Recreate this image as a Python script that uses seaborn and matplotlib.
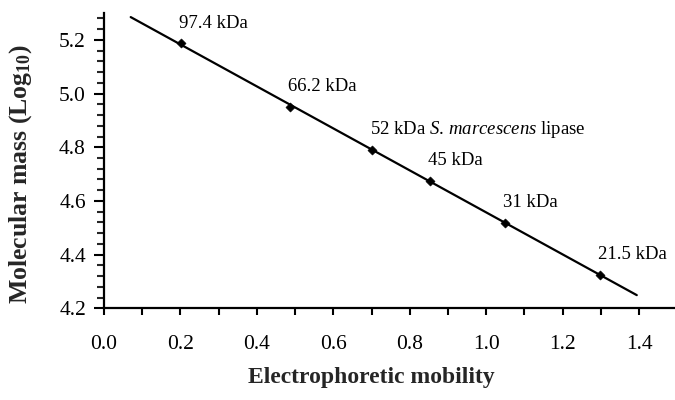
import numpy as np
import pandas as pd
import matplotlib
matplotlib.use("Agg")
import matplotlib.pyplot as plt
import seaborn as sns
from matplotlib.ticker import MultipleLocator

# ---- data ----
mobility = [0.201, 0.487, 0.701, 0.852, 1.048, 1.298]
log_mass = [5.188, 4.950, 4.791, 4.676, 4.519, 4.326]
labels = ["97.4 kDa", "66.2 kDa",
          r"52 kDa $\mathit{S.\,marcescens}$ lipase",
          "45 kDa", "31 kDa", "21.5 kDa"]
fit_range = [0.07, 1.394]
x_ticks = [0.0, 0.2, 0.4, 0.6, 0.8, 1.0, 1.2, 1.4]
y_ticks = [4.2, 4.4, 4.6, 4.8, 5.0, 5.2]

sns.set_style("ticks")
plt.rcParams["font.family"] = ["Liberation Serif", "DejaVu Serif"]
plt.rcParams["mathtext.fontset"] = "custom"
plt.rcParams["mathtext.rm"] = "Liberation Serif"
plt.rcParams["mathtext.it"] = "Liberation Serif:italic"
plt.rcParams["mathtext.bf"] = "Liberation Serif:bold"

df = pd.DataFrame({"mobility": mobility, "log_mass": log_mass})
coef = np.polyfit(df["mobility"], df["log_mass"], 1)
line_df = pd.DataFrame({"mobility": fit_range,
                        "log_mass": np.polyval(coef, fit_range)})

fig = plt.figure(figsize=(6.75, 4.0), dpi=100)
ax = fig.add_axes([0.154, 0.229, 0.846, 0.7385])

sns.lineplot(data=line_df, x="mobility", y="log_mass", ax=ax,
             color="black", linewidth=1.6)
sns.scatterplot(data=df, x="mobility", y="log_mass", ax=ax, marker="D",
                color="black", s=22, edgecolor="black", zorder=3)

for xv, yv, lab in zip(mobility, log_mass, labels):
    ax.annotate(lab, (xv, yv), xytext=(-2, 20), textcoords="offset pixels",
                ha="left", va="center", fontsize=13.5, color="black")

ax.set_xlim(0.0, 1.494)
ax.set_ylim(4.2, 5.3)
ax.set_xticks(x_ticks)
ax.set_xticklabels([f"{v:.1f}" for v in x_ticks])
ax.set_yticks(y_ticks)
ax.set_yticklabels([f"{v:.1f}" for v in y_ticks])
ax.xaxis.set_minor_locator(MultipleLocator(0.1))
ax.yaxis.set_minor_locator(MultipleLocator(0.04))

ax.tick_params(axis="x", which="both", direction="out", length=5, width=1.5,
               labelsize=15.5, pad=14, colors="black")
ax.tick_params(axis="y", which="major", direction="out", length=7, width=1.5,
               labelsize=15.5, pad=6, colors="black")
ax.tick_params(axis="y", which="minor", direction="out", length=5, width=1.5)

for s in ["top", "right"]:
    ax.spines[s].set_visible(False)
for s in ["left", "bottom"]:
    ax.spines[s].set_linewidth(1.6)
    ax.spines[s].set_color("black")

ax.set_xlabel("Electrophoretic mobility", fontsize=17, fontweight="bold")
ax.set_ylabel(r"Molecular mass (Log$_{\mathbf{10}}$)", fontsize=18.5,
              fontweight="bold")
ax.xaxis.set_label_coords(0.469, -0.2)
ax.yaxis.set_label_coords(-0.122, 0.455)

fig.savefig("out.png", dpi=100)
